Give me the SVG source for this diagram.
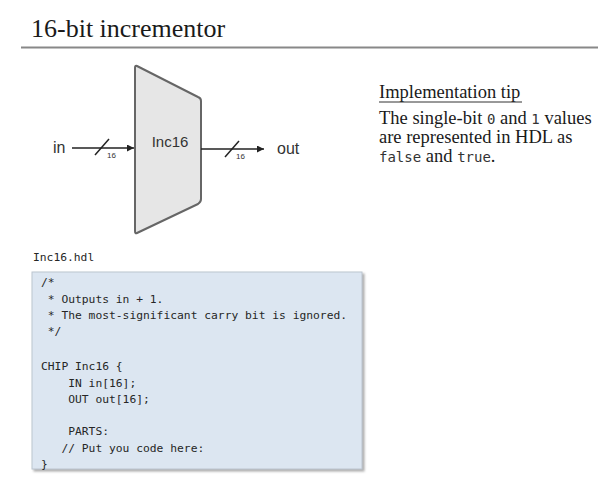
<svg xmlns="http://www.w3.org/2000/svg" width="601" height="486" viewBox="0 0 601 486">
<defs>
<style>
.serif{font-family:"Liberation Serif","Times New Roman",serif;fill:#1a1a1a}
.sans{font-family:"Liberation Sans",Arial,sans-serif;fill:#333}
.mono{font-family:"DejaVu Sans Mono","Liberation Mono",monospace;fill:#333}
.code{font-family:"DejaVu Sans Mono","Liberation Mono",monospace;font-size:11.3px;fill:#262626;white-space:pre}
.wire{stroke:#222;stroke-width:1.5;fill:none}
</style>
<marker id="ah" viewBox="0 0 10 10" refX="10" refY="5" markerWidth="9" markerHeight="7" markerUnits="userSpaceOnUse" orient="auto">
<path d="M0,0 L10,5 L0,10 z" fill="#222"/>
</marker>
<filter id="sh" x="-5%" y="-5%" width="115%" height="115%">
<feDropShadow dx="2" dy="2" stdDeviation="1" flood-color="#888" flood-opacity="0.7"/>
</filter>
</defs>
<rect width="601" height="486" fill="#fff"/>

<g id="title">
<text class="serif" x="31" y="37" font-size="26">16-bit incrementor</text>
<line x1="21" y1="47.5" x2="598" y2="47.5" stroke="#888" stroke-width="2"/>
</g>

<g id="inc16">
<path d="M137,66 Q135,65 135,68 L135,231 Q135,234 137,233 L198,204 Q201,202 201,199 L201,101 Q201,98 198,97 Z" fill="#e6e6e6" stroke="#666" stroke-width="2" stroke-linejoin="round"/>
<text class="sans" x="170" y="147" font-size="15" text-anchor="middle">Inc16</text>
</g>

<g id="in">
<text class="sans" x="53" y="153" font-size="16">in</text>
</g>
<g id="out">
<text class="sans" x="277" y="154" font-size="16">out</text>
</g>

<g id="connectors">
<line class="wire" x1="72" y1="148" x2="134" y2="148" marker-end="url(#ah)"/>
<line class="wire" x1="95" y1="155" x2="109" y2="139"/>
<text class="sans" x="107" y="158" font-size="8">16</text>
<line class="wire" x1="201" y1="149" x2="264" y2="149" marker-end="url(#ah)"/>
<line class="wire" x1="225" y1="157" x2="239" y2="141"/>
<text class="sans" x="236" y="159" font-size="8">16</text>
</g>

<g id="tip">
<text class="serif" x="379" y="98" font-size="18.5" fill="#333">Implementation tip</text>
<line x1="379" y1="102" x2="522" y2="102" stroke="#333" stroke-width="1"/>
<text class="serif" x="379" y="124" font-size="18.5">The single-bit <tspan class="mono" font-size="14">0</tspan> and <tspan class="mono" font-size="14">1</tspan> values</text>
<text class="serif" x="379" y="143" font-size="18.5">are represented in HDL as</text>
<text class="serif" x="379" y="162" font-size="18.5"><tspan class="mono" font-size="14">false</tspan> and <tspan class="mono" font-size="14">true</tspan>.</text>
</g>

<g id="code">
<text class="code" x="33" y="261" font-size="11.8">Inc16.hdl</text>
<rect x="32" y="272" width="330" height="197" fill="#dce6f1" stroke="#bcc5cf" stroke-width="1" filter="url(#sh)"/>
<text class="code" x="41" y="286">/*</text>
<text class="code" x="41" y="303"> * Outputs in + 1.</text>
<text class="code" x="41" y="319"> * The most-significant carry bit is ignored.</text>
<text class="code" x="41" y="335"> */</text>
<text class="code" x="41" y="370">CHIP Inc16 {</text>
<text class="code" x="41" y="387">    IN in[16];</text>
<text class="code" x="41" y="403">    OUT out[16];</text>
<text class="code" x="41" y="435">    PARTS:</text>
<text class="code" x="41" y="452">   // Put you code here:</text>
<text class="code" x="41" y="468">}</text>
</g>
</svg>
